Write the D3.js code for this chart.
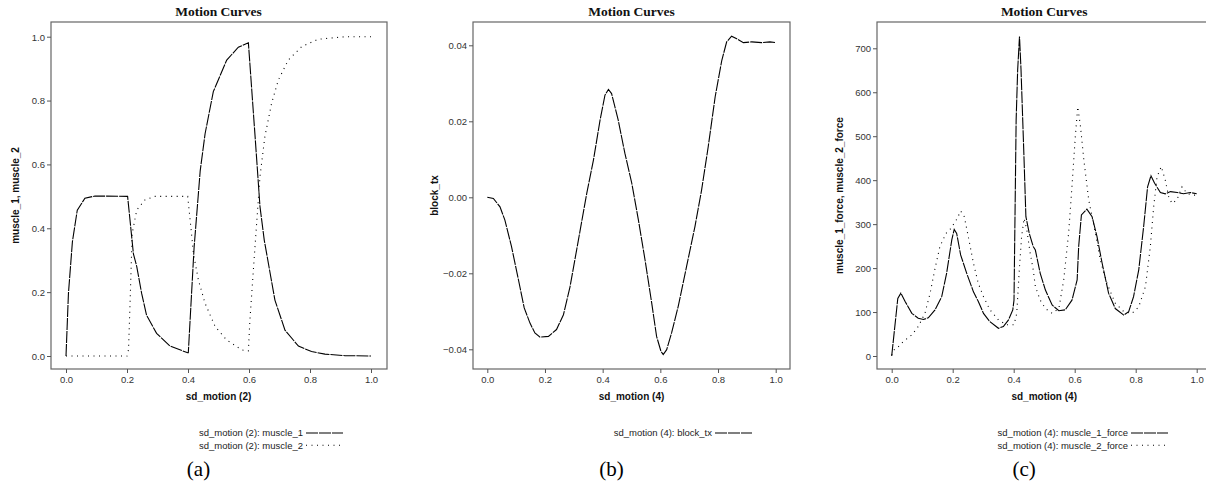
<!DOCTYPE html>
<html>
<head>
<meta charset="utf-8">
<script src="https://cdn.jsdelivr.net/npm/d3@7"></script>
<style>
  body { margin: 0; background: #fff; }
  svg { display: block; }
  .tick text { font-family: "Liberation Sans", Arial, sans-serif; font-size: 9.5px; fill: #333; }
  .tick line { stroke: #555; }
  .axis-title { font-family: "Liberation Sans", Arial, sans-serif; font-size: 10px; font-weight: bold; fill: #111; }
  .chart-title { font-family: "Liberation Serif", "Times New Roman", serif; font-size: 13.5px; font-weight: bold; fill: #111; }
  .legend { font-family: "Liberation Sans", Arial, sans-serif; font-size: 9.5px; fill: #222; }
  .caption { font-family: "Liberation Serif", "Times New Roman", serif; font-size: 21px; fill: #000; }
</style>
</head>
<body>
<svg id="chart"></svg>
<script>
const W = 1206, H = 487;

// (a) muscle activations as [time, value]
const muscle1 = [
  [0, 0], [0.008, 0.196], [0.021, 0.358], [0.037, 0.457], [0.062, 0.494], [0.095, 0.501],
  [0.202, 0.5], [0.221, 0.32], [0.232, 0.28], [0.248, 0.196], [0.264, 0.128], [0.297, 0.071],
  [0.341, 0.031], [0.399, 0.010], [0.401, 0.01], [0.42, 0.34], [0.44, 0.58], [0.456, 0.696],
  [0.483, 0.828], [0.527, 0.927], [0.565, 0.967], [0.598, 0.981], [0.62, 0.687], [0.636, 0.468],
  [0.65, 0.363], [0.685, 0.175], [0.718, 0.081], [0.762, 0.031], [0.805, 0.014], [0.849, 0.006],
  [0.915, 0.001], [1.0, 0]
];
const muscle2 = [
  [0, 0], [0.2, 0], [0.205, 0.02], [0.21, 0.165], [0.217, 0.384], [0.232, 0.457], [0.259, 0.489],
  [0.292, 0.5], [0.399, 0.5], [0.407, 0.426], [0.418, 0.32], [0.434, 0.238], [0.456, 0.165],
  [0.489, 0.092], [0.527, 0.05], [0.576, 0.019], [0.598, 0.016], [0.603, 0.113], [0.622, 0.374],
  [0.636, 0.562], [0.652, 0.687], [0.674, 0.791], [0.696, 0.864], [0.729, 0.927], [0.773, 0.969],
  [0.827, 0.992], [0.915, 1.0], [1.0, 1.0]
];

// (b) block translation
const blockTx = [
  [0, 0], [0.021, -0.0003], [0.044, -0.0025], [0.061, -0.006], [0.084, -0.013], [0.108, -0.0217],
  [0.128, -0.0291], [0.148, -0.0331], [0.165, -0.0357], [0.183, -0.0368], [0.212, -0.0366],
  [0.24, -0.0348], [0.264, -0.0309], [0.287, -0.0235], [0.316, -0.0112], [0.345, 0.0011],
  [0.368, 0.0098], [0.391, 0.0203], [0.408, 0.0269], [0.42, 0.0284], [0.431, 0.0273],
  [0.454, 0.0203], [0.477, 0.0116], [0.501, 0.0037], [0.524, -0.006], [0.547, -0.0165],
  [0.57, -0.0278], [0.587, -0.0366], [0.602, -0.0405], [0.61, -0.0414], [0.622, -0.0401],
  [0.639, -0.0357], [0.662, -0.0287], [0.691, -0.0182], [0.72, -0.0077], [0.743, 0.0019],
  [0.766, 0.0133], [0.79, 0.0264], [0.813, 0.036], [0.83, 0.0409], [0.847, 0.0424],
  [0.865, 0.0417], [0.888, 0.0407], [0.917, 0.0409], [0.951, 0.0407], [0.98, 0.0409], [1.0, 0.0407]
];

// (c) muscle forces
const muscle1Force = [
  [0, 0], [0.02, 131], [0.03, 143], [0.044, 124], [0.066, 97], [0.087, 86], [0.104, 83],
  [0.12, 87], [0.142, 105], [0.164, 135], [0.18, 188], [0.197, 264], [0.205, 288], [0.213, 279],
  [0.226, 230], [0.246, 188], [0.268, 146], [0.284, 124], [0.301, 97], [0.322, 78], [0.35, 63],
  [0.366, 67], [0.383, 82], [0.397, 105], [0.401, 127], [0.408, 537], [0.413, 651], [0.419, 727],
  [0.424, 651], [0.434, 446], [0.44, 317], [0.451, 279], [0.464, 249], [0.471, 241], [0.487, 188],
  [0.504, 150], [0.526, 116], [0.548, 103], [0.569, 105], [0.591, 127], [0.608, 173], [0.613, 249],
  [0.622, 321], [0.64, 334], [0.657, 317], [0.673, 272], [0.69, 211], [0.711, 143], [0.733, 108],
  [0.761, 93], [0.777, 101], [0.793, 135], [0.81, 196], [0.826, 294], [0.839, 385], [0.85, 410],
  [0.862, 393], [0.881, 372], [0.897, 369], [0.914, 374], [0.936, 372], [0.957, 369],
  [0.979, 372], [1.0, 369]
];
const muscle2Force = [
  [0, 2], [0.008, 14], [0.016, 17], [0.038, 33], [0.066, 48], [0.087, 67], [0.109, 97],
  [0.126, 143], [0.142, 199], [0.158, 249], [0.178, 279], [0.194, 290], [0.215, 313], [0.226, 330],
  [0.238, 317], [0.251, 272], [0.268, 211], [0.284, 165], [0.301, 135], [0.322, 105], [0.35, 82],
  [0.377, 71], [0.401, 71], [0.41, 97], [0.419, 203], [0.426, 272], [0.434, 313], [0.443, 287],
  [0.454, 234], [0.464, 196], [0.471, 158], [0.487, 127], [0.504, 108], [0.526, 97], [0.548, 108],
  [0.564, 173], [0.58, 279], [0.591, 385], [0.602, 499], [0.61, 567], [0.619, 522], [0.63, 446],
  [0.646, 355], [0.668, 279], [0.684, 218], [0.706, 165], [0.733, 120], [0.761, 101], [0.788, 97],
  [0.81, 112], [0.832, 158], [0.848, 249], [0.859, 340], [0.87, 408], [0.884, 431], [0.897, 400],
  [0.908, 363], [0.919, 347], [0.935, 355], [0.952, 385], [0.968, 370], [0.985, 366], [0.996, 366]
];

const xTicks = [0, 0.2, 0.4, 0.6, 0.8, 1.0];
const yTicksA = [0, 0.2, 0.4, 0.6, 0.8, 1.0];
const yTicksB = [-0.04, -0.02, 0, 0.02, 0.04];
const yTicksC = [0, 100, 200, 300, 400, 500, 600, 700];

const panels = [
  {
    box: { l: 51, t: 22, r: 387, b: 369 }, xPx: [66, 371], yPx: [356, 36.7], yDom: [0, 1],
    yTicks: yTicksA, yFmt: d3.format(".1f"), yTitle: "muscle_1, muscle_2", yTitleX: 15,
    xTitle: "sd_motion (2)", caption: "(a)", legendEnd: 303,
    series: [
      { data: muscle1, name: "sd_motion (2): muscle_1", dash: "12,1" },
      { data: muscle2, name: "sd_motion (2): muscle_2", dash: "1,4.5" }
    ]
  },
  {
    box: { l: 473, t: 22, r: 790, b: 369 }, xPx: [487.3, 775.7], yPx: [197.3, 45.3], yDom: [0, 0.04],
    yTicks: yTicksB, yFmt: d3.format(".2f"), yTitle: "block_tx", yTitleX: 434,
    xTitle: "sd_motion (4)", caption: "(b)", legendEnd: 712,
    series: [
      { data: blockTx, name: "sd_motion (4): block_tx", dash: "12,1" }
    ]
  },
  {
    box: { l: 877, t: 22, r: 1212, b: 369 }, xPx: [891.7, 1196.7], yPx: [356, 48.3], yDom: [0, 700],
    yTicks: yTicksC, yFmt: d3.format("d"), yTitle: "muscle_1_force, muscle_2_force", yTitleX: 839,
    xTitle: "sd_motion (4)", caption: "(c)", legendEnd: 1128,
    series: [
      { data: muscle1Force, name: "sd_motion (4): muscle_1_force", dash: "12,1" },
      { data: muscle2Force, name: "sd_motion (4): muscle_2_force", dash: "1,4.5" }
    ]
  }
];

const svg = d3.select("#chart").attr("width", W).attr("height", H);

panels.forEach(p => {
  const x = d3.scaleLinear().domain([0, 1]).range(p.xPx);
  const y = d3.scaleLinear().domain(p.yDom).range(p.yPx);
  const g = svg.append("g");
  const b = p.box;
  const cx = (b.l + Math.min(b.r, W)) / 2;
  const midX = (p.xPx[0] + p.xPx[1]) / 2;

  // Frame
  g.append("rect")
    .attr("x", b.l).attr("y", b.t)
    .attr("width", b.r - b.l).attr("height", b.b - b.t)
    .attr("fill", "none").attr("stroke", "#666").attr("stroke-width", 1.2);

  // Axes
  const xAxis = g.append("g")
    .attr("transform", `translate(0,${b.b})`)
    .call(d3.axisBottom(x).tickValues(xTicks).tickFormat(d3.format(".1f")).tickSize(4).tickPadding(3));
  xAxis.select(".domain").remove();

  const yAxis = g.append("g")
    .attr("transform", `translate(${b.l},0)`)
    .call(d3.axisLeft(y).tickValues(p.yTicks).tickFormat(p.yFmt).tickSize(4).tickPadding(2));
  yAxis.select(".domain").remove();
  yAxis.selectAll(".tick text").attr("dy", "0.35em");

  // Lines
  const line = d3.line().x(d => x(d[0])).y(d => y(d[1]));
  p.series.forEach(s => {
    g.append("path")
      .datum(s.data)
      .attr("d", line)
      .attr("fill", "none")
      .attr("stroke", "#000")
      .attr("stroke-width", 1.1)
      .attr("stroke-dasharray", s.dash);
  });

  // Titles
  g.append("text").attr("class", "chart-title")
    .attr("x", midX).attr("y", 16).attr("text-anchor", "middle").text("Motion Curves");
  g.append("text").attr("class", "axis-title")
    .attr("x", midX).attr("y", 400).attr("text-anchor", "middle").text(p.xTitle);
  g.append("text").attr("class", "axis-title")
    .attr("transform", `translate(${p.yTitleX},${(b.t + b.b) / 2}) rotate(-90)`)
    .attr("text-anchor", "middle").attr("dy", "0.35em").text(p.yTitle);

  // Legend
  p.series.forEach((s, i) => {
    const ly = 433 + i * 12.3;
    g.append("text").attr("class", "legend")
      .attr("x", p.legendEnd).attr("y", ly).attr("dy", "0.35em")
      .attr("text-anchor", "end").text(s.name);
    g.append("line")
      .attr("x1", p.legendEnd + 3).attr("x2", p.legendEnd + 40)
      .attr("y1", ly).attr("y2", ly)
      .attr("stroke", "#000").attr("stroke-width", 1.1)
      .attr("stroke-dasharray", s.dash);
  });

  // Caption
  g.append("text").attr("class", "caption")
    .attr("x", midX - 20).attr("y", 476).attr("text-anchor", "middle").text(p.caption);
});
</script>
</body>
</html>
